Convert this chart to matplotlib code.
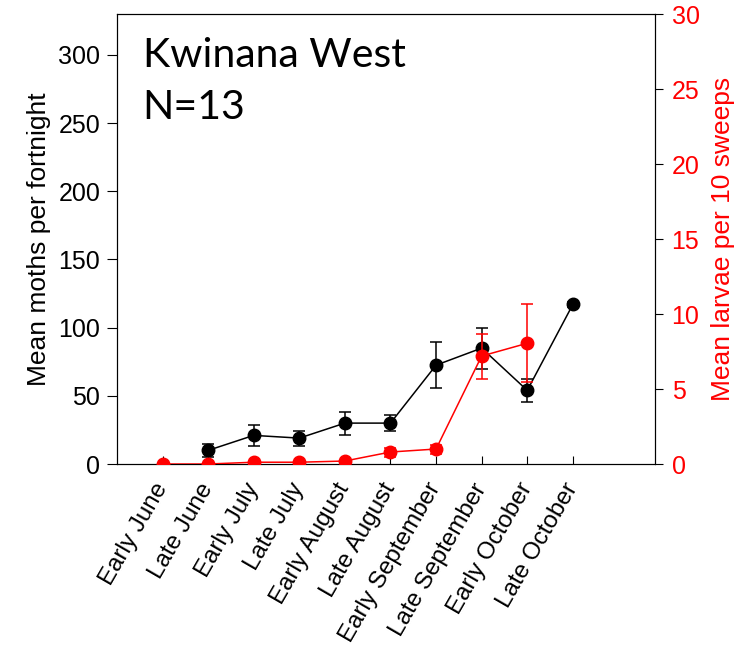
import numpy as np
import matplotlib
matplotlib.use("Agg")
import matplotlib.pyplot as plt

plt.rcParams["font.family"] = ["Liberation Sans", "DejaVu Sans"]

# ──────────────────────────────────────────────────────────────────────────────
# Data
# ──────────────────────────────────────────────────────────────────────────────

periods = ["Early June", "Late June", "Early July", "Late July", "Early August",
           "Late August", "Early September", "Late September", "Early October",
           "Late October"]

# moths per fortnight (left axis); Early June has no trap data
moths_mean = [np.nan, 10, 21, 19, 30, 30, 72.5, 85, 54, 117]
moths_err = [np.nan, 5, 7.5, 5.5, 8.5, 6, 17, 15, 8.5, 1.5]

# larvae per 10 sweeps (right axis); Late October not sampled
larvae_mean = [0, 0, 0.12, 0.12, 0.2, 0.8, 1.0, 7.2, 8.05, np.nan]
larvae_err = [np.nan, np.nan, np.nan, np.nan, np.nan, 0.3, 0.3, 1.5, 2.6, np.nan]

RED = "#FF0000"


def main():
    fig = plt.figure(figsize=(7.4, 6.46), dpi=100)
    ax = fig.add_axes([0.158, 0.2817, 0.727, 0.6966])
    x = np.arange(1, len(periods) + 1)

    ax.errorbar(x, moths_mean, yerr=moths_err, color="black", marker="o",
                markersize=9, linewidth=1.1, elinewidth=1.1, capsize=4.5,
                capthick=1.1, zorder=3)
    ax.set_xlim(0, 11.8)
    ax.set_ylim(0, 330)
    ax.set_yticks(range(0, 301, 50))
    ax.set_xticks(x)
    ax.set_xticklabels(periods, rotation=60, ha="right", va="center",
                       rotation_mode="anchor", fontsize=17.5)
    ax.tick_params(axis="x", direction="in", length=6, pad=15)
    ax.tick_params(axis="y", direction="out", length=7, labelsize=18, pad=5)
    ax.set_ylabel("Mean moths per fortnight", fontsize=19, labelpad=5)

    ax2 = ax.twinx()
    ax2.errorbar(x, larvae_mean, yerr=larvae_err, color=RED, marker="o",
                 markersize=9, linewidth=1.1, elinewidth=1.1, capsize=4.5,
                 capthick=1.1, zorder=3)
    ax2.set_ylim(0, 30)
    ax2.set_yticks(range(0, 31, 5))
    ax2.tick_params(axis="y", direction="out", length=6, labelsize=18,
                    labelcolor=RED, pad=6)
    ax2.set_ylabel("Mean larvae per 10 sweeps", fontsize=19, color=RED,
                   labelpad=8)

    ax.text(0.048, 0.95, "Kwinana West\nN=13", transform=ax.transAxes,
            fontsize=29.5, family=["Lato", "DejaVu Sans"], va="top", ha="left",
            linespacing=1.5)

    fig.savefig("out.png", dpi=100)
    plt.close(fig)


if __name__ == "__main__":
    main()
